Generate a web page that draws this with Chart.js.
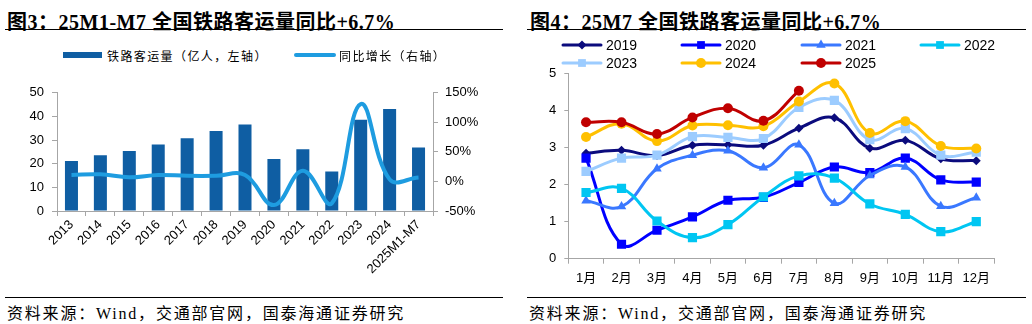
<!DOCTYPE html>
<html>
<head>
<meta charset="utf-8">
<script src="https://cdn.jsdelivr.net/npm/chart.js@4/dist/chart.umd.min.js"></script>
<style>
  body { margin: 0; width: 1032px; height: 324px; background: #fff; position: relative; overflow: hidden;
         font-family: "Liberation Sans", Arial, "Noto Sans CJK SC", sans-serif; }
  .title { position: absolute; top: 6px; line-height: 20px; font: bold 20px "Liberation Serif", "Noto Sans CJK SC", serif;
           letter-spacing: 0.5px; color: #000; white-space: nowrap; }
  .rule { position: absolute; height: 0; border-top: 1px solid #000; }
  .src { position: absolute; top: 300px; line-height: 16px; font: 16px "Liberation Serif", "Noto Sans CJK SC", serif;
         letter-spacing: 1.8px; white-space: nowrap; color: #000; }
  canvas.plot { position: absolute; }
  .lg { position: absolute; display: flex; align-items: center; white-space: nowrap; color: #000; z-index: 2; }
  .lg canvas { margin-right: 3px; }
  .lg-cn { font: 12px "Noto Sans CJK SC", sans-serif; letter-spacing: 1.4px; }
  .lg-num { font: 14px "Liberation Sans", Arial, sans-serif; }
</style>
</head>
<body>

<div class="title" style="left:7px">图3：25M1-M7 全国铁路客运量同比+6.7%</div>
<div class="rule" style="left:5px;top:29px;width:498px"></div>
<div class="title" style="left:530px">图4：25M7 全国铁路客运量同比+6.7%</div>
<div class="rule" style="left:527px;top:29px;width:499px"></div>

<div id="legendLeft"></div>
<div id="legendRight"></div>

<canvas id="volumeChart" class="plot" width="505" height="218" style="left:0;top:77px"></canvas>
<canvas id="monthlyChart" class="plot" width="500" height="237" style="left:516px;top:58px"></canvas>

<div class="rule" style="left:5px;top:297px;width:498px"></div>
<div class="src" style="left:7px">资料来源：Wind，交通部官网，国泰海通证券研究</div>
<div class="rule" style="left:527px;top:297px;width:499px"></div>
<div class="src" style="left:529px">资料来源：Wind，交通部官网，国泰海通证券研究</div>

<script>
// annual railway passengers (亿人) and yoy growth (%)
const years = ['2013', '2014', '2015', '2016', '2017', '2018', '2019', '2020', '2021', '2022', '2023', '2024', '2025M1-M7'];
const passengers = [21.1, 23.6, 25.4, 28.1, 30.8, 33.8, 36.6, 22.0, 26.1, 16.7, 38.6, 43.1, 26.9];
const growth = [11, 12, 7, 11, 9.5, 9.5, 11, -40, 18, -37, 131, 3.5, 6.7];
const leftTicks = [0, 10, 20, 30, 40, 50];
const rightTicks = [-50, 0, 50, 100, 150];

// monthly passengers (亿人) by year
const months = ['1月', '2月', '3月', '4月', '5月', '6月', '7月', '8月', '9月', '10月', '11月', '12月'];
const seriesYears = ['2019', '2020', '2021', '2022', '2023', '2024', '2025'];
const m2019 = [2.85, 2.93, 2.79, 3.07, 3.08, 3.07, 3.53, 3.81, 2.99, 3.20, 2.70, 2.65];
const m2020 = [2.72, 0.39, 0.77, 1.13, 1.58, 1.66, 2.06, 2.48, 2.33, 2.72, 2.13, 2.07];
const m2021 = [1.57, 1.41, 2.43, 2.80, 2.92, 2.46, 3.08, 1.50, 2.25, 2.48, 1.42, 1.65];
const m2022 = [1.79, 1.90, 1.02, 0.57, 0.92, 1.67, 2.24, 2.18, 1.48, 1.20, 0.73, 1.00];
const m2023 = [2.36, 2.72, 2.80, 3.30, 3.28, 3.25, 4.09, 4.28, 3.22, 3.52, 2.80, 2.88];
const m2024 = [3.29, 3.65, 3.18, 3.60, 3.61, 3.58, 4.25, 4.74, 3.40, 3.72, 3.05, 2.98];
const m2025 = [3.69, 3.69, 3.37, 3.82, 4.07, 3.73, 4.54];

const axisGray = '#a6a6a6';
const barBlue = '#0f5ea3';
const lineBlue = '#1e9ce0';

Chart.defaults.font.family = '"Liberation Sans", Arial, "Noto Sans CJK SC", sans-serif';
Chart.defaults.font.size = 13;
Chart.defaults.color = '#000';

function fixSize(w, h) {
    return function (scale) {
        if (w != null) scale.width = w;
        if (h != null) scale.height = h;
    };
}

function axisBase() {
    return {
        grid: { display: true, drawOnChartArea: false, color: axisGray, tickLength: 5 },
        border: { display: true, color: axisGray, width: 1 }
    };
}

// ---- left: bars + growth line ----
new Chart(document.getElementById('volumeChart'), {
    data: {
        labels: years,
        datasets: [
            {
                type: 'line', label: '同比增长（右轴）', data: growth, yAxisID: 'y1', order: 0,
                borderColor: lineBlue, borderWidth: 4, pointRadius: 0, tension: 0.4, fill: false
            },
            {
                type: 'bar', label: '铁路客运量（亿人，左轴）', data: passengers, yAxisID: 'y', order: 1,
                backgroundColor: barBlue, categoryPercentage: 1, barPercentage: 0.45
            }
        ]
    },
    options: {
        responsive: false, animation: false, devicePixelRatio: 1,
        layout: { padding: { top: 10.7, left: 0, right: 0, bottom: 0 } },
        plugins: { legend: { display: false }, tooltip: { enabled: false } },
        scales: {
            x: Object.assign(axisBase(), {
                type: 'category', offset: true,
                ticks: { minRotation: 45, maxRotation: 45, autoSkip: false, padding: 1 },
                afterFit: fixSize(null, 84)
            }),
            y: Object.assign(axisBase(), {
                position: 'left', min: leftTicks[0], max: leftTicks[leftTicks.length - 1],
                afterBuildTicks: s => { s.ticks = leftTicks.map(v => ({ value: v })); },
                ticks: { padding: 8 },
                afterFit: fixSize(57, null)
            }),
            y1: Object.assign(axisBase(), {
                position: 'right', min: rightTicks[0], max: rightTicks[rightTicks.length - 1],
                afterBuildTicks: s => { s.ticks = rightTicks.map(v => ({ value: v })); },
                ticks: { padding: 7, callback: v => v + '%' },
                afterFit: fixSize(72, null)
            })
        }
    }
});

// ---- right: monthly lines ----
const lineStyles = [
    { color: '#0b0b7d', point: 'rectRot', radius: 4.5 },
    { color: '#0000ff', point: 'rect', radius: 6.5 },
    { color: '#3a78ff', point: 'triangle', radius: 5.5 },
    { color: '#00c6f2', point: 'rect', radius: 6.5 },
    { color: '#9cccff', point: 'rect', radius: 6.5 },
    { color: '#ffc000', point: 'circle', radius: 5 },
    { color: '#c00000', point: 'circle', radius: 5 }
];
const monthlyData = [m2019, m2020, m2021, m2022, m2023, m2024, m2025];

new Chart(document.getElementById('monthlyChart'), {
    type: 'line',
    data: {
        labels: months,
        datasets: seriesYears.map((yr, i) => ({
            label: yr,
            data: monthlyData[i],
            order: seriesYears.length - i,
            borderColor: lineStyles[i].color,
            backgroundColor: lineStyles[i].color,
            borderWidth: 3,
            pointStyle: lineStyles[i].point,
            pointRadius: lineStyles[i].radius,
            pointBorderWidth: 0,
            tension: 0.4,
            fill: false
        }))
    },
    options: {
        responsive: false, animation: false, devicePixelRatio: 1,
        layout: { padding: { top: 12.7, left: 0, right: 22, bottom: 0 } },
        plugins: { legend: { display: false }, tooltip: { enabled: false } },
        scales: {
            x: Object.assign(axisBase(), {
                type: 'category', offset: true,
                grid: { display: true, drawOnChartArea: false, color: axisGray, tickLength: 5, offset: true },
                ticks: { maxRotation: 0, autoSkip: false, padding: 7 },
                afterFit: fixSize(null, 36.3)
            }),
            y: Object.assign(axisBase(), {
                min: 0, max: 5,
                grid: { display: true, drawOnChartArea: false, color: axisGray, tickLength: 4 },
                ticks: { stepSize: 1, padding: 8 },
                afterFit: fixSize(52.3, null)
            })
        }
    }
});

// ---- legends ----
function swatch(color, style, radius, thick) {
    const c = document.createElement('canvas');
    c.width = 42; c.height = 16;
    const ctx = c.getContext('2d');
    ctx.strokeStyle = color;
    ctx.fillStyle = color;
    ctx.lineWidth = thick;
    ctx.lineCap = 'round';
    ctx.beginPath();
    ctx.moveTo(2, 8);
    ctx.lineTo(40, 8);
    ctx.stroke();
    if (style) {
        Chart.helpers.drawPoint(ctx, { pointStyle: style, radius: radius, rotation: 0, borderWidth: 0 }, 21, 8);
    }
    return c;
}

function legendItem(parent, x, y, icon, text, cls) {
    const d = document.createElement('div');
    d.className = 'lg ' + cls;
    d.style.left = x + 'px';
    d.style.top = (y - 8) + 'px';
    d.style.height = '16px';
    d.appendChild(icon);
    const s = document.createElement('span');
    s.textContent = text;
    d.appendChild(s);
    parent.appendChild(d);
}

const ll = document.getElementById('legendLeft');
const barBox = document.createElement('div');
barBox.style.cssText = 'width:39px;height:6px;margin-right:5px;background:' + barBlue;
legendItem(ll, 63, 55, barBox, '铁路客运量（亿人，左轴）', 'lg-cn');
const lineBox = swatch(lineBlue, null, 0, 4);
legendItem(ll, 294, 55, lineBox, '同比增长（右轴）', 'lg-cn');

const lr = document.getElementById('legendRight');
const colX = [561, 680, 800, 919];
seriesYears.forEach((yr, i) => {
    const x = colX[i % 4];
    const y = i < 4 ? 45 : 63;
    const st = lineStyles[i];
    legendItem(lr, x, y, swatch(st.color, st.point, Math.min(st.radius, 5.5), 3), yr, 'lg-num');
});
</script>
</body>
</html>
